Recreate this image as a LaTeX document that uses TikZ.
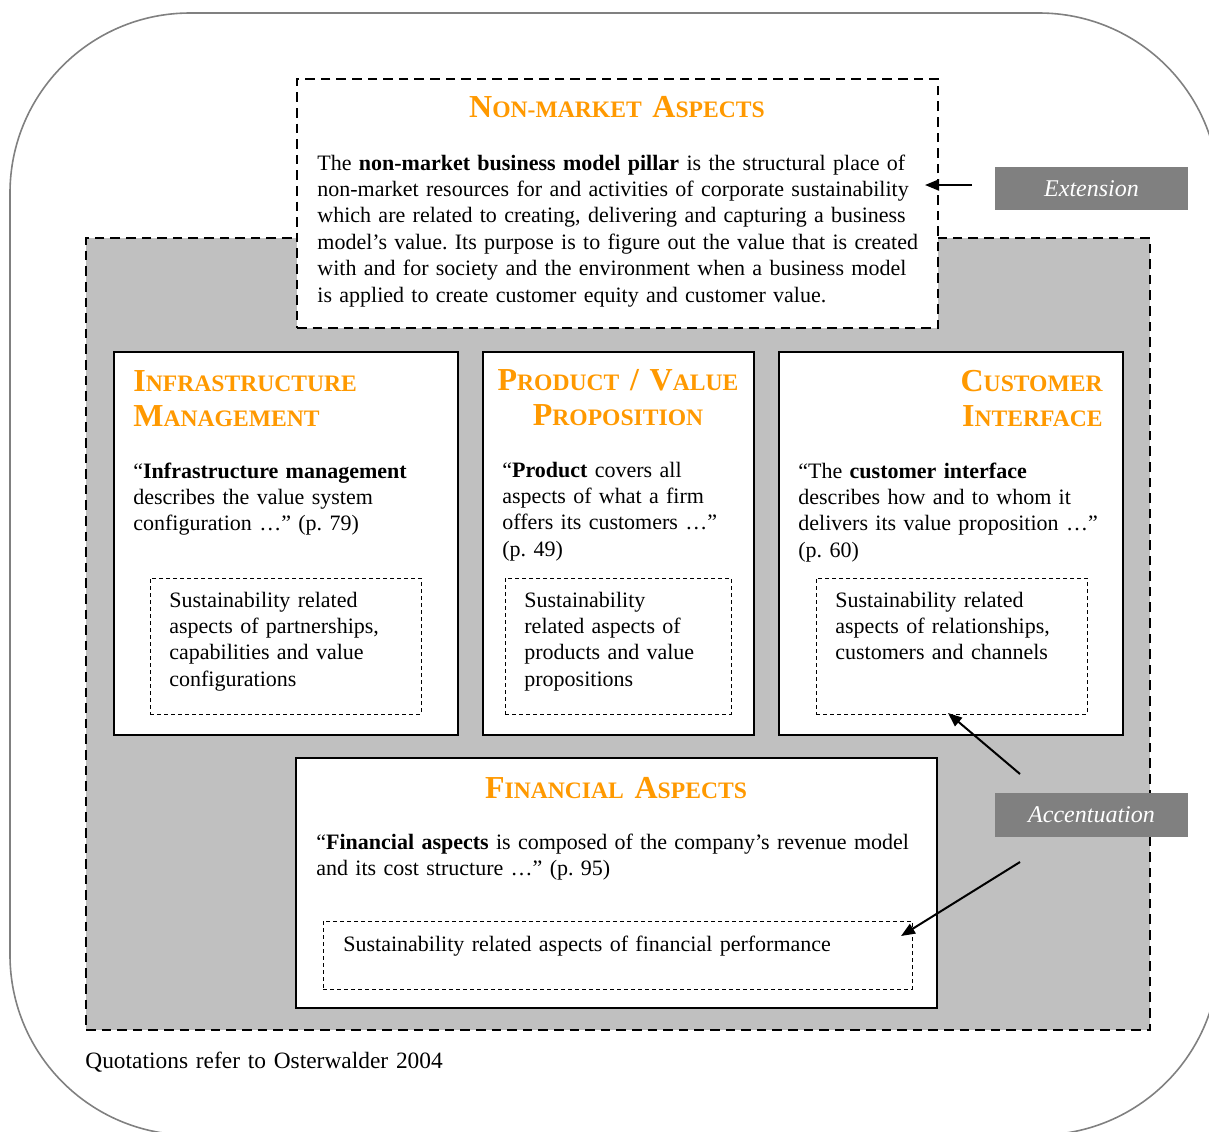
\documentclass[tikz,border=0pt]{standalone}
\usepackage{fontspec}
\setmainfont{Liberation Serif}
\usetikzlibrary{arrows.meta}
\definecolor{ttl}{RGB}{255,153,0}
\definecolor{panelgray}{RGB}{192,192,192}
\definecolor{lblgray}{RGB}{128,128,128}
\newcommand{\Tb}[1]{{\fontsize{16}{17.6}\selectfont #1}}
\newcommand{\Ts}[1]{{\fontsize{11.8}{13.2}\selectfont #1}}
\frenchspacing
\begin{document}
\begin{tikzpicture}[x=0.5pt,y=-0.5pt,
  box/.style={anchor=north west, inner sep=0pt, outer sep=0pt},
  thickdash/.style={box, draw=black, line width=1.45pt, dash pattern=on 4.8pt off 3pt},
  solidbox/.style={box, draw=black, fill=white, line width=1.3pt},
  thindash/.style={box, draw=black, line width=0.5pt, dash pattern=on 2pt off 1.5pt},
  lbl/.style={box, fill=lblgray, text=white, font=\itshape\fontsize{12}{13.2}\selectfont},
  txt/.style={inner sep=0pt, anchor=base west, align=left, text width=320pt, font=\fontsize{11}{13.2}\selectfont},
  ttlfont/.style={inner sep=0pt, text=ttl, text width=220pt, font=\bfseries\fontsize{16}{17.6}\selectfont},
  arr/.style={line width=1pt, -{Triangle[length=7pt,width=5.5pt]}},
]
\useasboundingbox (0,0) rectangle (1209,1131);
% outer frame
\draw[draw=lblgray, line width=0.8pt, rounded corners=90pt] (10,13) rectangle (1219,1135);
% gray panel
\node[thickdash, fill=panelgray, minimum width=532pt, minimum height=396pt] (panel) at (86,238) {};
% non-market box
\node[thickdash, fill=white, minimum width=320.5pt, minimum height=124.5pt] (nonmarket) at (297,79) {};
% pillar boxes
\node[solidbox, minimum width=172pt, minimum height=191.5pt] (infra) at (114,352) {};
\node[solidbox, minimum width=135.5pt, minimum height=191.5pt] (product) at (483,352) {};
\node[solidbox, minimum width=172pt, minimum height=191.5pt] (customer) at (779,352) {};
\node[solidbox, minimum width=320.5pt, minimum height=125pt] (financial) at (296,758) {};
% inner dashed boxes
\node[thindash, minimum width=135.5pt, minimum height=68pt] (infrain) at (150,578) {};
\node[thindash, minimum width=113pt, minimum height=68pt] (productin) at (505,578) {};
\node[thindash, minimum width=135.5pt, minimum height=68pt] (customerin) at (816,578) {};
\node[thindash, minimum width=294.5pt, minimum height=34pt] (financialin) at (323,921) {};
% labels
\node[lbl, minimum width=96.5pt, minimum height=21.5pt] (ext) at (995,167) {Extension};
\node[lbl, minimum width=96.5pt, minimum height=22pt] (acc) at (995,793) {Accentuation};
% arrows
\coordinate (extfrom) at (972,185);
\coordinate (exttip) at (925,185);
\coordinate (accfromA) at (1020,774);
\coordinate (acctipA) at (948,713);
\coordinate (accfromB) at (1020,862);
\coordinate (acctipB) at (901,936);
\draw[arr] (extfrom) -- (exttip);
\draw[arr] (accfromA) -- (acctipA);
\draw[arr] (accfromB) -- (acctipB);
% titles
\node[ttlfont, anchor=base, align=center, text width=300pt] (tnon) at (617,117) {\Tb{N}\Ts{ON-MARKET} \Tb{A}\Ts{SPECTS}};
\node[ttlfont, anchor=base west, align=left] (tinfra) at (133,391) {\Tb{I}\Ts{NFRASTRUCTURE}\\\Tb{M}\Ts{ANAGEMENT}};
\node[ttlfont, anchor=base, align=center] (tproduct) at (618,390) {\Tb{P}\Ts{RODUCT }\Tb{/}\Ts{ }\Tb{V}\Ts{ALUE}\\\Tb{P}\Ts{ROPOSITION}};
\node[ttlfont, anchor=base east, align=right] (tcustomer) at (1103,391) {\Tb{C}\Ts{USTOMER}\\\Tb{I}\Ts{NTERFACE}};
\node[ttlfont, anchor=base, align=center] (tfinancial) at (616,798) {\Tb{F}\Ts{INANCIAL} \Tb{A}\Ts{SPECTS}};
% texts
\node[txt] (xnon) at (317,170) {The \textbf{non-market business model pillar} is the structural place of\\
non-market resources for and activities of corporate sustainability\\
which are related to creating, delivering and capturing a business\\
model’s value. Its purpose is to figure out the value that is created\\
with and for society and the environment when a business model\\
is applied to create customer equity and customer value.};
\node[txt] (xinfra) at (133,478) {“\textbf{Infrastructure management}\\describes the value system\\configuration …” (p. 79)};
\node[txt] (xinfrain) at (169,607) {Sustainability related\\aspects of partnerships,\\capabilities and value\\configurations};
\node[txt] (xproduct) at (502,477) {“\textbf{Product} covers all\\aspects of what a firm\\offers its customers …”\\(p. 49)};
\node[txt] (xproductin) at (524,607) {Sustainability\\related aspects of\\products and value\\propositions};
\node[txt] (xcustomer) at (798,478) {“The \textbf{customer interface}\\describes how and to whom it\\delivers its value proposition …”\\(p. 60)};
\node[txt] (xcustomerin) at (835,607) {Sustainability related\\aspects of relationships,\\customers and channels};
\node[txt] (xfinancial) at (316,849) {“\textbf{Financial aspects} is composed of the company’s revenue model\\and its cost structure …” (p. 95)};
\node[txt] (xfinancialin) at (343,951) {Sustainability related aspects of financial performance};
\node[txt, font=\fontsize{11.7}{13.2}\selectfont] (footer) at (85,1068) {Quotations refer to Osterwalder 2004};
\end{tikzpicture}
\end{document}
